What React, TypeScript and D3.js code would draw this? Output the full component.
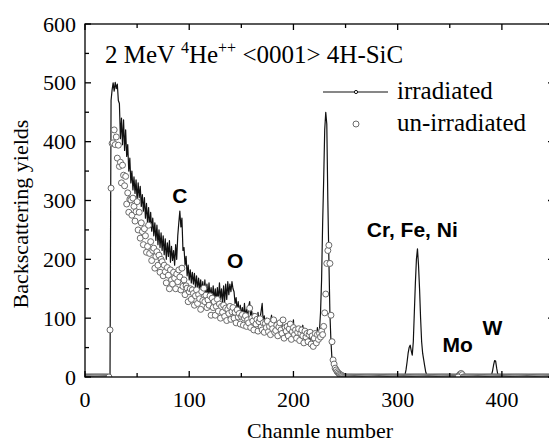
import React, { useEffect, useRef } from 'react';
import * as d3 from 'd3';

// irradiated spectrum (line), one value per channel, starting at the given channel
const irrMainStart = 24;
const irrMain = [
  0, 470, 488, 500, 486, 501, 490, 498, 470, 465,
  405, 440, 395, 437, 385, 420, 375, 395, 350, 372,
  330, 350, 318, 340, 312, 335, 300, 330, 305, 324,
  290, 310, 282, 305, 270, 295, 262, 288, 255, 280,
  248, 270, 240, 262, 232, 258, 225, 250, 220, 245,
  215, 240, 208, 235, 200, 228, 205, 232, 195, 222,
  198, 215, 190, 225, 200, 240, 262, 282, 255, 270,
  215, 220, 190, 205, 172, 190, 165, 182, 160, 178,
  158, 176, 152, 172, 150, 168, 148, 165, 145, 162,
  140, 165, 138, 158, 136, 160, 135, 152, 132, 155,
  130, 150, 128, 152, 130, 160, 132, 150, 125, 155,
  128, 158, 132, 162, 140, 158, 145, 162, 150, 145,
  125, 135, 112, 128, 108, 122, 105, 118, 100, 125,
  102, 115, 98, 120, 128, 100, 112, 95, 108, 92,
  105, 90, 110, 92, 100, 112, 125, 92, 104, 88,
  100, 86, 98, 84, 95, 105, 85, 98, 82, 94,
  80, 92, 78, 90, 76, 92, 74, 88, 72, 86,
  70, 85, 72, 82, 68, 84, 97, 62, 80, 70,
  82, 68, 85, 66, 80, 88, 65, 78, 64, 80,
  62, 76, 60, 74, 62, 70, 60, 74, 64, 84,
  70, 80, 110, 165, 260, 335, 420, 450, 430, 300,
  200, 108, 60, 30, 17, 10, 7, 5, 4, 3,
  2, 1, 0,
];
const irrCrStart = 306;
const irrCr = [0, 3, 12, 25, 40, 50, 54, 45, 37, 60, 110, 160, 200, 218, 190, 150, 100, 60, 40, 29, 18, 8, 3, 0];
const irrMoStart = 357;
const irrMo = [0, 3, 6, 8, 8, 7, 6, 3, 0];
const irrWStart = 389;
const irrW = [0, 3, 10, 20, 28, 27, 15, 5, 0];
const channelMax = 450;

// un-irradiated spectrum (open circles)
const unMainStart = 24;
const unMain = [
  80, 321, 397, 398, 420, 395, 408, 372, 394, 358,
  365, 330, 360, 343, 325, 341, 294, 313, 280, 302,
  301, 275, 304, 290, 265, 281, 298, 250, 280, 236,
  262, 247, 225, 252, 240, 212, 222, 258, 210, 230,
  198, 215, 219, 185, 205, 213, 190, 207, 178, 200,
  196, 172, 190, 179, 160, 186, 173, 150, 182, 165,
  158, 178, 168, 150, 175, 162, 182, 170, 148, 185,
  154, 165, 140, 155, 151, 128, 145, 150, 132, 148,
  142, 122, 138, 148, 125, 140, 133, 115, 145, 130,
  151, 128, 139, 118, 131, 122, 138, 105, 134, 118,
  128, 105, 120, 132, 112, 124, 100, 120, 110, 122,
  103, 117, 96, 115, 108, 120, 98, 111, 118, 100,
  110, 92, 114, 102, 108, 90, 103, 106, 88, 100,
  104, 86, 97, 92, 117, 84, 100, 95, 80, 103,
  90, 98, 78, 94, 99, 85, 80, 92, 76, 91,
  84, 95, 77, 86, 72, 90, 82, 97, 76, 79,
  88, 70, 85, 92, 80, 74, 97, 66, 84, 78,
  86, 70, 82, 90, 64, 77, 84, 72, 80, 66,
  76, 82, 62, 74, 80, 70, 58, 78, 68, 74,
  60, 72, 76, 56, 70, 52, 66, 74, 58, 72,
  64, 74, 68, 78, 72, 86, 109, 141, 193, 215,
  224, 193, 105, 60, 29, 22, 15, 12, 9, 7,
  5, 4, 3, 2, 1,
];
const unMoStart = 359;
const unMo = [3, 5, 6, 4];
// channels where the un-irradiated yield sits at zero
const unZeroRuns = [[0, 23], [249, 358], [363, 450]];

const xTicks = [0, 100, 200, 300, 400];
const xMinor = [50, 150, 250, 350, 450];
const yTicks = [0, 100, 200, 300, 400, 500, 600];
const yMinor = [50, 150, 250, 350, 450, 550];

const elementLabels = [
  { text: 'C', ch: 91, val: 296 },
  { text: 'O', ch: 144, val: 185 },
  { text: 'Cr, Fe, Ni', ch: 314, val: 238 },
  { text: 'Mo', ch: 357.5, val: 42 },
  { text: 'W', ch: 391, val: 71 },
];

const SERIF = "'Liberation Serif', 'Times New Roman', Tinos, 'DejaVu Serif', serif";
const SANS = "'Liberation Sans', Arial, Arimo, sans-serif";

const App = () => {
  const svgRef = useRef(null);

  useEffect(() => {
    const svg = d3.select(svgRef.current);
    svg.selectAll('*').remove();

    const width = 549;
    const height = 444;

    const x = d3.scaleLinear().domain([0, channelMax]).range([85, 554]);
    const y = d3.scaleLinear().domain([0, 600]).range([377, 24]);

    svg.append('rect').attr('width', width).attr('height', height).attr('fill', 'white');

    // build the series
    const toPts = (start, vals) => vals.map((v, i) => [start + i, v]);
    const irrPts = [
      [0, 0],
      ...toPts(irrMainStart, irrMain),
      ...toPts(irrCrStart, irrCr),
      ...toPts(irrMoStart, irrMo),
      ...toPts(irrWStart, irrW),
      [channelMax, 0],
    ];
    const unPts = [...toPts(unMainStart, unMain), ...toPts(unMoStart, unMo)];
    unZeroRuns.forEach(([a, b]) => {
      for (let c = a; c <= b; c++) unPts.push([c, 0]);
    });

    svg.append('defs').append('clipPath').attr('id', 'plotClip')
      .append('rect')
      .attr('x', x(0)).attr('y', y(600))
      .attr('width', x(channelMax) - x(0)).attr('height', y(0) - y(600));

    const plot = svg.append('g').attr('clip-path', 'url(#plotClip)');

    plot.append('path')
      .datum(irrPts)
      .attr('fill', 'none')
      .attr('stroke', '#111')
      .attr('stroke-width', 1.2)
      .attr('stroke-linejoin', 'round')
      .attr('d', d3.line().x(d => x(d[0])).y(d => y(d[1])));

    plot.selectAll('circle.un')
      .data(unPts)
      .enter()
      .append('circle')
      .attr('class', 'un')
      .attr('cx', d => x(d[0]))
      .attr('cy', d => y(d[1]))
      .attr('r', 3)
      .attr('fill', 'white')
      .attr('stroke', '#6a6a6a')
      .attr('stroke-width', 1);

    // frame + inward ticks
    const axisG = svg.append('g').attr('stroke', '#000').attr('stroke-width', 1.3);
    axisG.append('rect')
      .attr('x', x(0)).attr('y', y(600))
      .attr('width', x(channelMax) - x(0)).attr('height', y(0) - y(600))
      .attr('fill', 'none');

    const tickX = (vals, len) => {
      vals.forEach(v => {
        axisG.append('line').attr('x1', x(v)).attr('x2', x(v)).attr('y1', y(0)).attr('y2', y(0) - len);
        axisG.append('line').attr('x1', x(v)).attr('x2', x(v)).attr('y1', y(600)).attr('y2', y(600) + len);
      });
    };
    const tickY = (vals, len) => {
      vals.forEach(v => {
        axisG.append('line').attr('x1', x(0)).attr('x2', x(0) + len).attr('y1', y(v)).attr('y2', y(v));
        axisG.append('line').attr('x1', x(channelMax)).attr('x2', x(channelMax) - len).attr('y1', y(v)).attr('y2', y(v));
      });
    };
    tickX(xTicks, 6);
    tickX(xMinor, 4);
    tickY(yTicks, 6);
    tickY(yMinor, 4);

    svg.selectAll('text.xt')
      .data(xTicks)
      .enter()
      .append('text')
      .attr('x', d => x(d))
      .attr('y', 407)
      .attr('text-anchor', 'middle')
      .attr('font-family', SERIF)
      .attr('font-size', 22)
      .text(d => d);

    svg.selectAll('text.yt')
      .data(yTicks)
      .enter()
      .append('text')
      .attr('x', 76)
      .attr('y', d => y(d) + 7.5)
      .attr('text-anchor', 'end')
      .attr('font-family', SERIF)
      .attr('font-size', 22)
      .text(d => d);

    svg.append('text')
      .attr('x', 320)
      .attr('y', 438)
      .attr('text-anchor', 'middle')
      .attr('font-family', SERIF)
      .attr('font-size', 22)
      .text('Channle number');

    svg.append('text')
      .attr('transform', 'translate(28,214) rotate(-90)')
      .attr('text-anchor', 'middle')
      .attr('font-family', SERIF)
      .attr('font-size', 22)
      .text('Backscattering yields');

    // title with superscripts
    const title = svg.append('text')
      .attr('x', 105)
      .attr('y', 63)
      .attr('font-family', SERIF)
      .attr('font-size', 25);
    title.append('tspan').text('2 MeV ');
    title.append('tspan').attr('dy', -10).attr('font-size', 16).text('4');
    title.append('tspan').attr('dy', 10).text('He');
    title.append('tspan').attr('dy', -10).attr('font-size', 16).text('++');
    title.append('tspan').attr('dy', 10).text(' <0001> 4H-SiC');

    // legend
    const leg = svg.append('g');
    leg.append('line').attr('x1', 323).attr('x2', 388).attr('y1', 92).attr('y2', 92)
      .attr('stroke', '#111').attr('stroke-width', 1.2);
    leg.append('circle').attr('cx', 356).attr('cy', 92).attr('r', 1.6)
      .attr('fill', 'white').attr('stroke', '#111').attr('stroke-width', 1);
    leg.append('text').attr('x', 397).attr('y', 99)
      .attr('font-family', SERIF).attr('font-size', 25).text('irradiated');
    leg.append('circle').attr('cx', 356).attr('cy', 124).attr('r', 3)
      .attr('fill', 'white').attr('stroke', '#6a6a6a').attr('stroke-width', 1);
    leg.append('text').attr('x', 397).attr('y', 131)
      .attr('font-family', SERIF).attr('font-size', 25).text('un-irradiated');

    // element annotations
    svg.selectAll('text.el')
      .data(elementLabels)
      .enter()
      .append('text')
      .attr('x', d => x(d.ch))
      .attr('y', d => y(d.val))
      .attr('text-anchor', 'middle')
      .attr('font-family', SANS)
      .attr('font-weight', 'bold')
      .attr('font-size', 21)
      .text(d => d.text);
  }, []);

  return (
    <svg
      ref={svgRef}
      width={549}
      height={444}
      style={{ position: 'absolute', left: 0, top: 0 }}
    ></svg>
  );
};

export default App;
